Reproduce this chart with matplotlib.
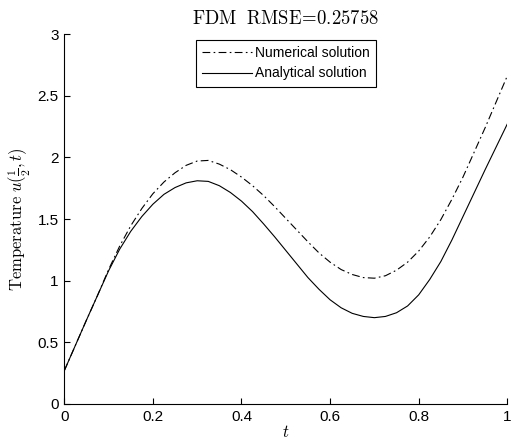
import matplotlib
matplotlib.use("Agg")
import matplotlib.pyplot as plt
import numpy as np

# values
t = [0.000, 0.025, 0.050, 0.075, 0.100, 0.125, 0.150, 0.175, 0.200, 0.225,
     0.250, 0.275, 0.300, 0.325, 0.350, 0.375, 0.400, 0.425, 0.450, 0.475,
     0.500, 0.525, 0.550, 0.575, 0.600, 0.625, 0.650, 0.675, 0.700, 0.725,
     0.750, 0.775, 0.800, 0.825, 0.850, 0.875, 0.900, 0.925, 0.950, 0.975, 1.000]
numerical = [0.27, 0.475, 0.68, 0.88, 1.09, 1.28, 1.445, 1.585, 1.705, 1.80,
             1.875, 1.935, 1.97, 1.975, 1.945, 1.90, 1.84, 1.77, 1.69, 1.60,
             1.505, 1.41, 1.315, 1.225, 1.15, 1.09, 1.05, 1.025, 1.02, 1.04,
             1.085, 1.15, 1.24, 1.355, 1.495, 1.66, 1.84, 2.04, 2.24, 2.45, 2.66]
analytical = [0.27, 0.475, 0.68, 0.88, 1.08, 1.255, 1.40, 1.52, 1.62, 1.70,
              1.755, 1.793, 1.81, 1.805, 1.77, 1.715, 1.645, 1.56, 1.46, 1.355,
              1.245, 1.135, 1.025, 0.93, 0.845, 0.78, 0.735, 0.71, 0.70, 0.71,
              0.74, 0.795, 0.885, 1.01, 1.155, 1.33, 1.52, 1.71, 1.90, 2.085, 2.27]

xticks = [0, 0.2, 0.4, 0.6, 0.8, 1]
xticklabels = ["0", "0.2", "0.4", "0.6", "0.8", "1"]
yticks = [0, 0.5, 1, 1.5, 2, 2.5, 3]
yticklabels = ["0", "0.5", "1", "1.5", "2", "2.5", "3"]

plt.rcParams["mathtext.fontset"] = "cm"
plt.rcParams["font.family"] = ["Liberation Sans", "DejaVu Sans"]

fig = plt.figure(figsize=(5.16, 4.44), dpi=100)
ax = fig.add_axes([0.1246, 0.0901, 0.8585, 0.8333])

ax.plot(t, numerical, color="black", lw=0.8, ls=(0, (7, 3, 1.5, 3)), label="Numerical solution")
ax.plot(t, analytical, color="black", lw=0.8, ls="-", label="Analytical solution")

ax.set_xlim(0, 1)
ax.set_ylim(0, 3)
ax.set_xticks(xticks)
ax.set_xticklabels(xticklabels)
ax.set_yticks(yticks)
ax.set_yticklabels(yticklabels)
ax.spines["top"].set_visible(False)
ax.spines["right"].set_visible(False)
for s in ["left", "bottom"]:
    ax.spines[s].set_linewidth(0.8)
ax.tick_params(direction="in", length=4, width=0.8, labelsize=11, pad=4)

ax.set_title(r"$\mathrm{FDM\ \ RMSE}\!=\!\mathrm{0.25758}$", fontsize=13.5, pad=7)
ax.set_xlabel(r"$t$", fontsize=12, labelpad=0)
ax.set_ylabel(r"$\mathrm{Temperature}\ u(\frac{1}{2},t)$", fontsize=12, labelpad=3)

leg = ax.legend(loc="upper left", bbox_to_anchor=(0.297, 0.984), fontsize=10,
                fancybox=False, framealpha=1, edgecolor="black", handlelength=3.6,
                handletextpad=0.2, borderaxespad=0, borderpad=0.45, labelspacing=0.45)
leg.get_frame().set_linewidth(0.8)

fig.savefig("out.png", dpi=100)
